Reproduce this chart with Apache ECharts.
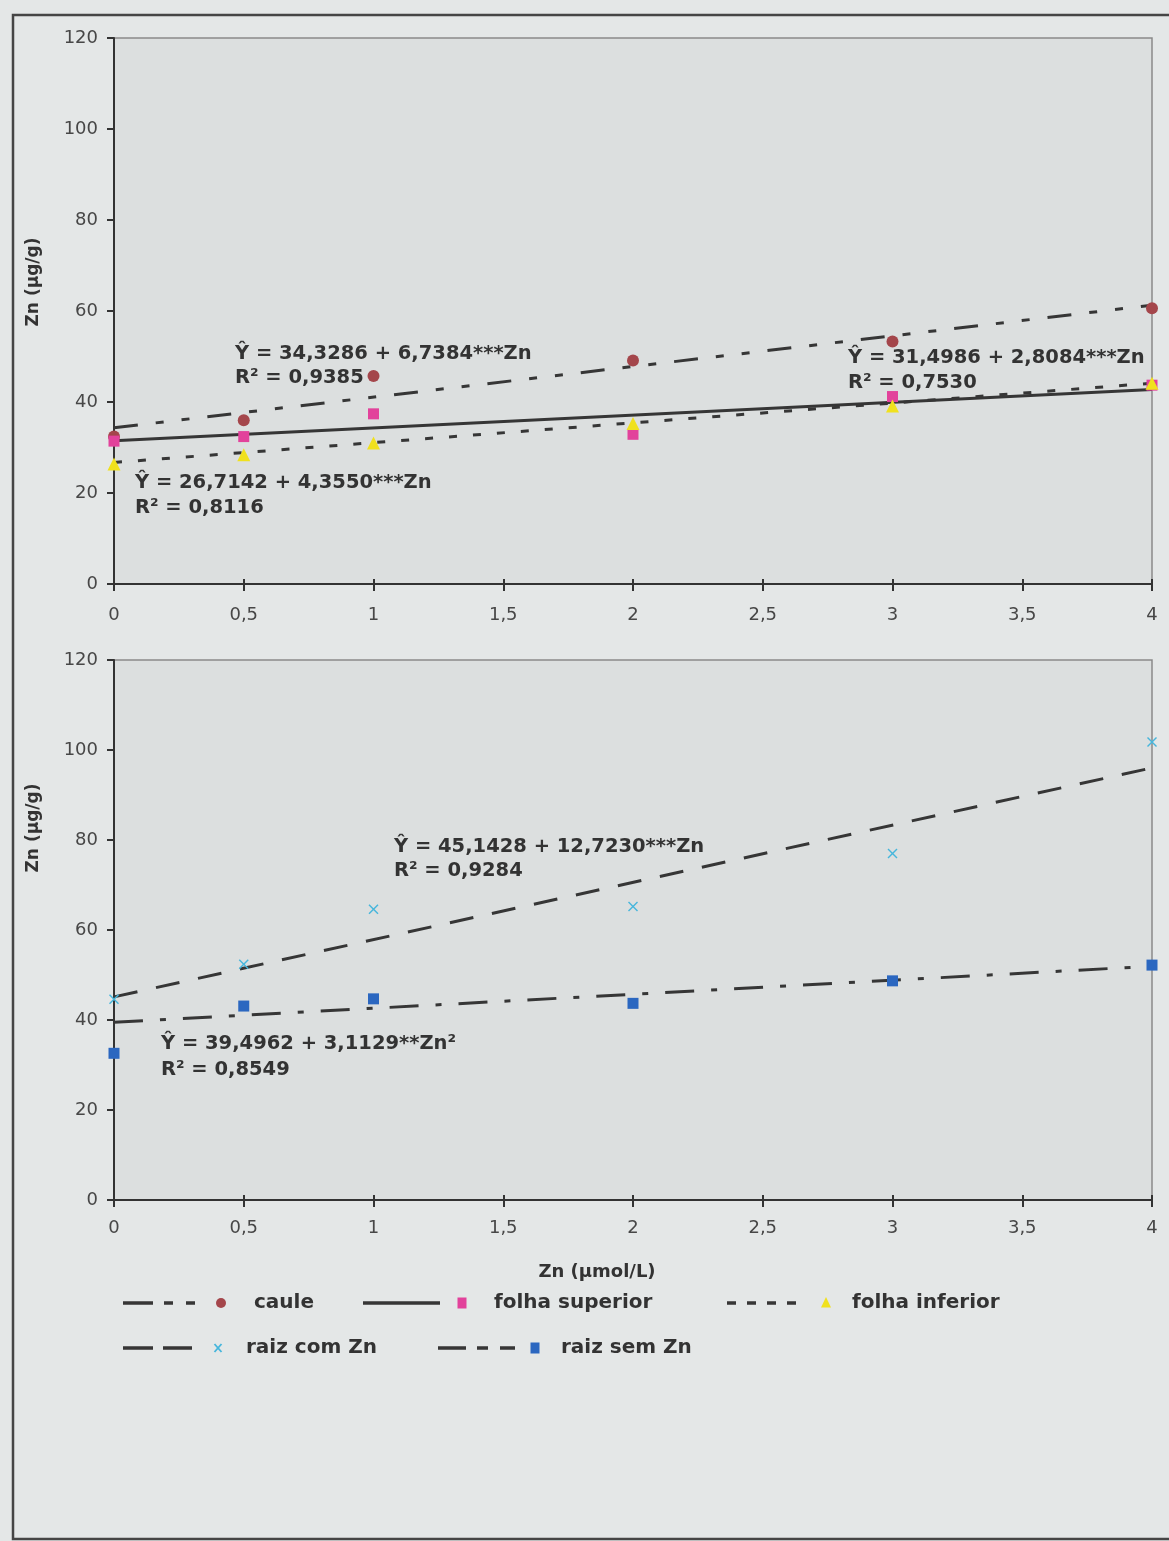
<!DOCTYPE html>
<html>
<head>
<meta charset="utf-8">
<script src="https://cdn.jsdelivr.net/npm/echarts@6/dist/echarts.min.js"></script>
<style>
  html, body { margin: 0; padding: 0; background: #e4e7e7; }
  #chart { width: 1169px; height: 1541px; }
</style>
</head>
<body>
<div id="chart"></div>
<script>
// ---------- data ----------
const doses = [0, 0.5, 1, 2, 3, 4];               // Zn (µmol/L)
const caule = [32.4, 36.0, 45.7, 49.1, 53.3, 60.6];
const folhaSuperior = [31.4, 32.4, 37.4, 32.9, 41.2, 43.7];
const folhaInferior = [26.4, 28.4, 31.0, 35.3, 39.1, 44.1];
const raizComZn = [44.6, 52.4, 64.6, 65.2, 77.0, 101.8];
const raizSemZn = [32.6, 43.1, 44.7, 43.7, 48.7, 52.2];

// fitted lines (values at Zn = 0 and Zn = 4)
const trendX = [0, 4];
const trendCaule = [34.33, 61.28];
const trendFolhaSuperior = [31.50, 42.73];
const trendFolhaInferior = [26.71, 44.13];
const trendRaizComZn = [45.14, 96.03];
const trendRaizSemZn = [39.50, 51.95];

const seriesNames = ['caule', 'folha superior', 'folha inferior', 'raiz com Zn', 'raiz sem Zn'];
const equations = [
  ['Ŷ = 34,3286 + 6,7384***Zn', 'R² = 0,9385'],
  ['Ŷ = 31,4986 + 2,8084***Zn', 'R² = 0,7530'],
  ['Ŷ = 26,7142 + 4,3550***Zn', 'R² = 0,8116'],
  ['Ŷ = 45,1428 + 12,7230***Zn', 'R² = 0,9284'],
  ['Ŷ = 39,4962 + 3,1129**Zn²', 'R² = 0,8549']
];
const yTitle = 'Zn (μg/g)';
const xTitle = 'Zn (μmol/L)';

// ---------- styles ----------
const LINE = '#363636';
const colors = ['#a4464b', '#e2429b', '#f0e11e', '#46b6dc', '#2b67c0'];
const XPATH = 'path://M0,1L1,0L5,4L9,0L10,1L6,5L10,9L9,10L5,6L1,10L0,9L4,5Z';
const symbols = ['circle', 'rect', 'triangle', XPATH, 'rect'];
const symSizes = [12, 11, 13, 10, 11];
const dashes = [[24, 18, 8, 18, 8, 18], 'solid', [8, 16], [24, 19], [29, 17, 6, 17]];
const legendDashes = [[30, 11, 9, 13, 9, 20], null, [9, 11], [30, 10], [28, 11, 11, 12]];
const FONT = '"DejaVu Sans", Verdana, sans-serif';

function pairs(xs, ys) { return xs.map((x, i) => [x, ys[i]]); }

const pointSets = [caule, folhaSuperior, folhaInferior, raizComZn, raizSemZn];
const trendSets = [trendCaule, trendFolhaSuperior, trendFolhaInferior, trendRaizComZn, trendRaizSemZn];
const gridOf = [0, 0, 0, 1, 1];

const axisCommon = {
  type: 'value',
  axisLine: { show: true, lineStyle: { color: '#333', width: 2 } },
  axisTick: { show: true, length: 7, lineStyle: { color: '#333', width: 2 } },
  splitLine: { show: false },
  axisLabel: { color: '#474747', fontSize: 18, fontFamily: FONT }
};

const xAxes = [0, 1].map(g => Object.assign({}, axisCommon, {
  gridIndex: g, min: 0, max: 4, interval: 0.5,
  axisLabel: Object.assign({}, axisCommon.axisLabel, {
    margin: g === 0 ? 22 : 19,
    formatter: v => String(v).replace('.', ',')
  })
}));
// inner half of the crossing x ticks
[0, 1].forEach(g => xAxes.push({
  type: 'value', gridIndex: g, min: 0, max: 4, interval: 0.5, position: 'bottom',
  axisLine: { show: false }, axisLabel: { show: false }, splitLine: { show: false },
  axisTick: { show: true, inside: true, length: 5, lineStyle: { color: '#333', width: 2 } }
}));
const yAxes = [0, 1].map(g => Object.assign({}, axisCommon, {
  gridIndex: g, min: 0, max: 120, interval: 20,
  axisLabel: Object.assign({}, axisCommon.axisLabel, { margin: 16 })
}));

const series = [];
pointSets.forEach((ys, i) => {
  series.push({
    name: seriesNames[i] + ' ajuste', type: 'line',
    xAxisIndex: gridOf[i], yAxisIndex: gridOf[i],
    data: pairs(trendX, trendSets[i]),
    symbol: 'none', silent: true, z: 2,
    lineStyle: { color: LINE, width: 3, type: dashes[i], cap: 'butt' }
  });
});
pointSets.forEach((ys, i) => {
  series.push({
    name: seriesNames[i], type: 'scatter',
    xAxisIndex: gridOf[i], yAxisIndex: gridOf[i],
    data: pairs(doses, ys),
    symbol: symbols[i], symbolSize: symSizes[i], z: 5,
    itemStyle: { color: colors[i], opacity: 1 }
  });
});

// ---------- annotations ----------
const EQ_FONT = 'bold 19.5px ' + FONT;
const eqPos = [[235, 354, 378], [848, 358, 383], [135, 483, 508], [394, 847, 871], [161, 1044, 1070]];
const graphics = [];
// outer frame
graphics.push({ type: 'rect', shape: { x: 13, y: 15, width: 1200, height: 1524 },
  style: { fill: 'none', stroke: '#454545', lineWidth: 2.5 }, z: 0 });
equations.forEach((eq, i) => {
  const [x, y1, y2] = eqPos[i];
  graphics.push({ type: 'text', x: x, y: y1, z: 10, style: { text: eq[0], font: EQ_FONT, fill: '#333', verticalAlign: 'middle' } });
  graphics.push({ type: 'text', x: x, y: y2, z: 10, style: { text: eq[1], font: EQ_FONT, fill: '#333', verticalAlign: 'middle' } });
});
// y-axis titles
[[34, 282], [34, 828]].forEach(p => {
  graphics.push({ type: 'text', x: p[0], y: p[1], rotation: Math.PI / 2, z: 10,
    style: { text: yTitle, font: 'bold 17px ' + FONT, fill: '#333', align: 'center', verticalAlign: 'middle' } });
});
// x-axis title
graphics.push({ type: 'text', x: 597, y: 1272, z: 10,
  style: { text: xTitle, font: 'bold 18px ' + FONT, fill: '#333', align: 'center', verticalAlign: 'middle' } });

// legend (line sample, marker, label)
const legendPos = [
  [123, 198, 221, 254, 1303],
  [363, 440, 462, 494, 1303],
  [727, 804, 826, 852, 1303],
  [123, 192, 218, 246, 1348],
  [438, 515, 535, 561, 1348]
];
legendPos.forEach((p, i) => {
  const [x1, x2, mx, tx, y] = p;
  graphics.push({ type: 'line', z: 10, shape: { x1: x1, y1: y, x2: x2, y2: y },
    style: { stroke: LINE, lineWidth: 3.5, lineDash: legendDashes[i] } });
  if (i === 3) {
    graphics.push({ type: 'line', z: 10, shape: { x1: mx - 3.5, y1: y - 4, x2: mx + 3.5, y2: y + 4 }, style: { stroke: colors[i], lineWidth: 1.8 } });
    graphics.push({ type: 'line', z: 10, shape: { x1: mx + 3.5, y1: y - 4, x2: mx - 3.5, y2: y + 4 }, style: { stroke: colors[i], lineWidth: 1.8 } });
  } else {
    let m;
    if (symbols[i] === 'circle') m = { type: 'circle', shape: { cx: mx, cy: y, r: 5 } };
    else if (symbols[i] === 'rect') m = { type: 'rect', shape: { x: mx - 4.5, y: y - 5.5, width: 9, height: 11 } };
    else m = { type: 'polygon', shape: { points: [[mx, y - 6], [mx + 5, y + 4.5], [mx - 5, y + 4.5]] } };
    m.z = 10; m.style = { fill: colors[i] };
    graphics.push(m);
  }
  graphics.push({ type: 'text', x: tx, y: y, z: 10,
    style: { text: seriesNames[i], font: 'bold 20px ' + FONT, fill: '#333', verticalAlign: 'middle' } });
});

const chart = echarts.init(document.getElementById('chart'), null, { renderer: 'canvas' });
chart.setOption({
  backgroundColor: '#e4e7e7',
  animation: false,
  grid: [
    { left: 114, top: 38, width: 1038, height: 546, show: true, backgroundColor: '#dcdfdf', borderColor: '#8a8a8a', borderWidth: 1.5 },
    { left: 114, top: 660, width: 1038, height: 540, show: true, backgroundColor: '#dcdfdf', borderColor: '#8a8a8a', borderWidth: 1.5 }
  ],
  xAxis: xAxes,
  yAxis: yAxes,
  series: series,
  graphic: graphics
});
</script>
</body>
</html>
